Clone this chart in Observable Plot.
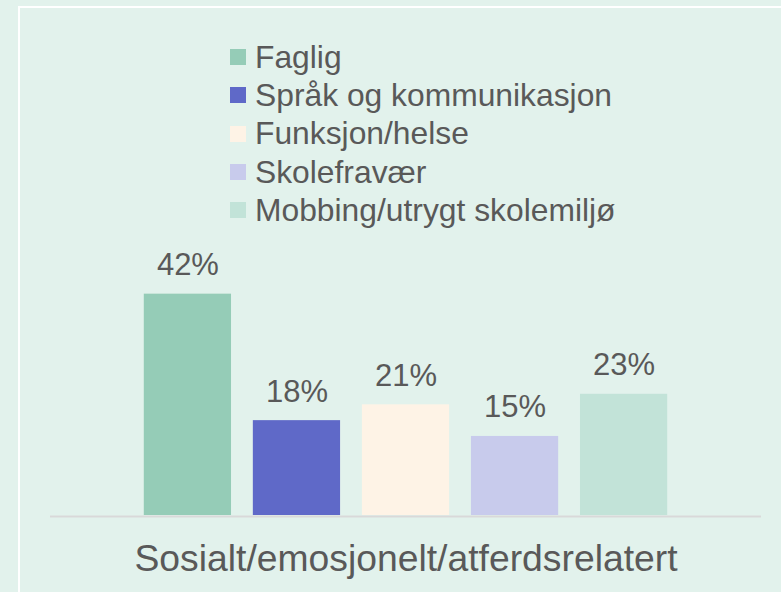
<!DOCTYPE html>
<html>
<head>
<meta charset="utf-8">
<script src="https://cdn.jsdelivr.net/npm/d3@7"></script>
<script src="https://cdn.jsdelivr.net/npm/@observablehq/plot@0.6"></script>
<style>
  html, body { margin: 0; padding: 0; width: 781px; height: 592px; overflow: hidden; background: #E2F2EC; }
  #frame { position: absolute; left: 18px; top: 6px; width: 900px; height: 900px; border: 2px solid #ffffff; }
  #chart { position: absolute; left: 0; top: 0; }
  #legend { position: absolute; left: 230px; top: 37.9px; font-family: "Liberation Sans", Arial, sans-serif; font-size: 31.8px; color: #595959; }
  .row { display: flex; align-items: center; height: 38.3px; line-height: 38.3px; white-space: nowrap; }
  .sw { width: 16px; height: 16px; margin-right: 9px; flex: none; }
</style>
</head>
<body>
<div id="frame"></div>
<div id="chart"></div>
<div id="legend"></div>
<script>
const categories = ["Sosialt/emosjonelt/atferdsrelatert"];
const series = ["Faglig", "Språk og kommunikasjon", "Funksjon/helse", "Skolefravær", "Mobbing/utrygt skolemiljø"];
const values = [42, 18, 21, 15, 23];
const colors = ["#95CCB7", "#5F69C8", "#FEF3E6", "#C8CBEC", "#C2E3D8"];

const data = series.map((s, i) => ({ category: categories[0], series: s, value: values[i] }));

const chart = Plot.plot({
  width: 781,
  height: 592,
  marginLeft: 50,
  marginRight: 20,
  marginTop: 251.5,
  marginBottom: 77,
  style: { background: "transparent", fontFamily: "'Liberation Sans', Arial, sans-serif", color: "#595959", overflow: "visible" },
  fx: { domain: categories, padding: 0, label: null, round: false },
  x: { domain: series, paddingInner: 0.2, paddingOuter: 0.86, round: false, axis: null },
  y: { domain: [0, 50], axis: null },
  color: { domain: series, range: colors },
  marks: [
    Plot.ruleY([0], { stroke: "#D9D9D9", strokeWidth: 2, dy: 1 }),
    Plot.barY(data, { fx: "category", x: "series", y: "value", fill: "series" }),
    Plot.text(data, { fx: "category", x: "series", y: "value", text: d => d.value + "%", dy: -19, lineAnchor: "bottom", fontSize: 31, fill: "#595959" }),
    Plot.axisFx({ anchor: "bottom", tickSize: 0, tickPadding: 29, fontSize: 37.3, label: null, fill: "#595959" })
  ]
});
document.getElementById("chart").appendChild(chart);

const legend = document.getElementById("legend");
series.forEach((s, i) => {
  const row = document.createElement("div");
  row.className = "row";
  const sw = document.createElement("span");
  sw.className = "sw";
  sw.style.background = colors[i];
  const label = document.createElement("span");
  label.textContent = s;
  row.appendChild(sw);
  row.appendChild(label);
  legend.appendChild(row);
});
</script>
</body>
</html>
